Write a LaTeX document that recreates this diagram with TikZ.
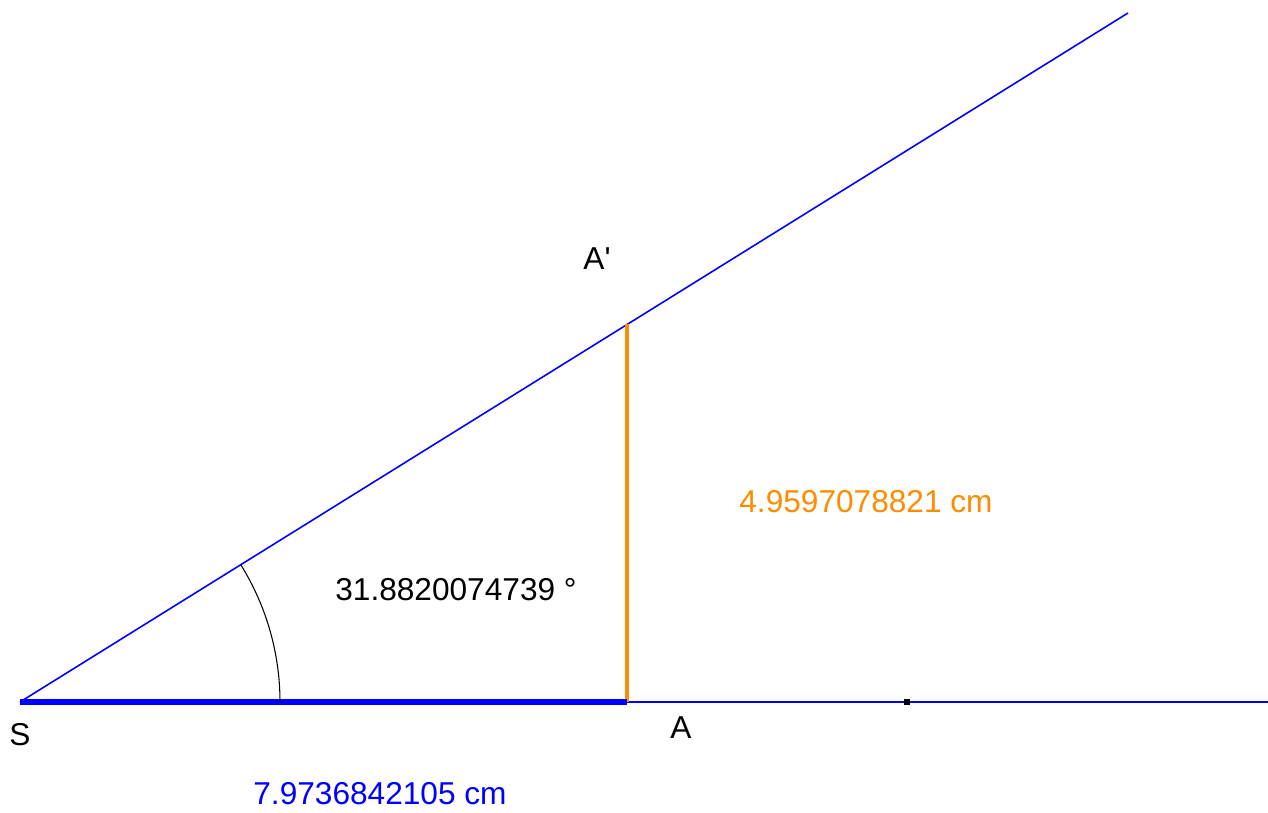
\documentclass[tikz,border=0pt]{standalone}
\usepackage{fontspec}
\setmainfont{Liberation Sans}
\usetikzlibrary{calc}
\definecolor{segorange}{RGB}{255,140,0}

\begin{document}
\begin{tikzpicture}[
  lbl/.style={font=\fontsize{18}{21}\selectfont, inner sep=0pt},
  thinray/.style={blue, line width=0.9pt},
  ]
  \useasboundingbox (0,0) rectangle (25.36,16.24);

  % Points
  \coordinate (S) at (0.4,2.2);
  \coordinate (A) at (12.54,2.2);
  \coordinate (Ap) at (12.54,9.75);
  \coordinate (rayend) at (22.56,15.98);
  \coordinate (axisend) at (25.36,2.2);
  \coordinate (P) at (18.14,2.2);

  % Rays from S
  \draw[thinray] (S) -- (rayend);
  \draw[thinray] (S) -- (axisend);

  % Segments
  \draw[segorange, line width=2.8pt] (A) -- (Ap);
  \draw[blue, line width=3.2pt] (S) -- (A);

  % Angle mark
  \draw[black, line width=0.6pt]
    ($(S)+(5.2,0)$) arc[start angle=0, end angle=31.88, radius=5.2];

  % Point on line
  \fill[black] ($(P)+(-0.06,-0.06)$) rectangle ++(0.12,0.12);

  % Labels
  \node[lbl] (Slbl) at (0.4,1.54) {S};
  \node[lbl] (Albl) at (13.62,1.68) {A};
  \node[lbl] (Aplbl) at (11.94,11.06) {A\textquotesingle};

  % Measures
  \node[lbl] (angle) at (9.12,4.44) {31.8820074739 °};
  \node[lbl, segorange] (height) at (17.32,6.2) {4.9597078821 cm};
  \node[lbl, blue] (base) at (7.6,0.36) {7.9736842105 cm};

\end{tikzpicture}
\end{document}
